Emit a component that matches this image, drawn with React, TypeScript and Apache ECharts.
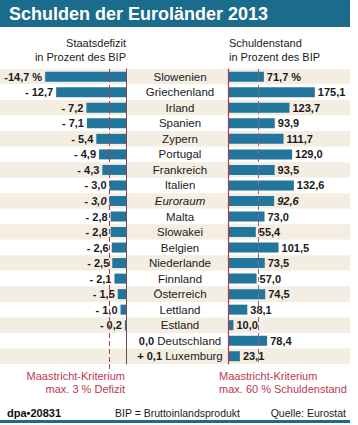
import React, { useEffect, useRef } from "react";
import * as echarts from "echarts";

const countries = [
  "Slowenien", "Griechenland", "Irland", "Spanien", "Zypern", "Portugal", "Frankreich",
  "Italien", "Euroraum", "Malta", "Slowakei", "Belgien", "Niederlande", "Finnland",
  "Österreich", "Lettland", "Estland", "Deutschland", "Luxemburg",
];
const defizit = [-14.7, -12.7, -7.2, -7.1, -5.4, -4.9, -4.3, -3.0, -3.0, -2.8, -2.8, -2.6, -2.5, -2.1, -1.5, -1.0, -0.2, 0.0, 0.1];
const schulden = [71.7, 175.1, 123.7, 93.9, 111.7, 129.0, 93.5, 132.6, 92.6, 73.0, 55.4, 101.5, 73.5, 57.0, 74.5, 38.1, 10.0, 78.4, 23.1];
const italicRow = "Euroraum";
const defizitLimit = -3;
const schuldenLimit = 60;

const FONT = "'Liberation Sans', Arial, Helvetica, sans-serif";
const BAR = "#22759c";
const TEAL = "#1b6c8c";
const RED = "#b83a4e";
const TXT = "#1a1a1a";

const num = (v: number) => Math.abs(v).toFixed(1).replace(".", ",");
const fmtDef = (v: number, i: number) => {
  if (v < 0) return i === 0 ? "-" + num(v) + " %" : "- " + num(v);
  if (v === 0) return "0,0";
  return "+ " + num(v);
};
const fmtSch = (v: number, i: number) => (i === 0 ? num(v) + " %" : num(v));

export default function App() {
  const ref = useRef<HTMLDivElement>(null);
  useEffect(() => {
    document.body.style.margin = "0";
    const chart = echarts.init(ref.current!, undefined, { renderer: "svg" });
    const top = 69;
    const height = 295;
    const option: any = {
      animation: false,
      textStyle: { fontFamily: FONT },
      grid: [
        { left: 43.5, width: 82.5, top, height },
        { left: 228.5, width: 98.6, top, height },
        { left: 0, width: 350, top, height },
      ],
      xAxis: [
        { gridIndex: 0, type: "value", min: -15, max: 0, show: false },
        { gridIndex: 1, type: "value", min: 0, max: 200, show: false },
        { gridIndex: 2, type: "value", min: 0, max: 1, show: false },
      ],
      yAxis: [
        {
          gridIndex: 0, type: "category", data: countries, inverse: true, position: "right",
          axisLine: { show: true, lineStyle: { color: "#6e4a58", width: 1 } },
          axisTick: { show: false },
          z: 5,
          axisLabel: {
            show: true, interval: 0, margin: 54, align: "center", fontFamily: FONT, fontSize: 11.5, color: TXT,
            formatter: (name: string, idx: number) => {
              const v = defizit[idx];
              if (name === italicRow) return "{it|" + name + "}";
              if (v >= 0) return "{b|" + fmtDef(v, idx) + "} {n|" + name + "}";
              return "{n|" + name + "}";
            },
            rich: {
              n: { fontFamily: FONT, fontSize: 11.5, color: TXT },
              it: { fontFamily: FONT, fontSize: 11.5, color: TXT, fontStyle: "italic" },
              b: { fontFamily: FONT, fontSize: 11, color: TXT, fontWeight: "bold" },
            },
          },
        },
        {
          gridIndex: 1, type: "category", data: countries, inverse: true, position: "left",
          axisLine: { show: true, lineStyle: { color: RED, width: 1.2 } },
          axisTick: { show: false }, axisLabel: { show: false }, z: 5,
        },
        {
          gridIndex: 2, type: "category", data: countries, inverse: true,
          axisLine: { show: false }, axisTick: { show: false }, axisLabel: { show: false },
          splitLine: { show: false },
          splitArea: { show: true, interval: 0, areaStyle: { color: ["#f4ede2", "#ffffff"] } },
        },
      ],
      series: [
        {
          type: "bar", xAxisIndex: 0, yAxisIndex: 0, barWidth: 10, z: 3,
          itemStyle: { color: BAR },
          data: defizit.map((v, i) => ({
            value: v,
            label: {
              show: v < 0,
              fontStyle: countries[i] === italicRow ? "italic" : "normal",
            },
          })),
          label: {
            position: "left", distance: 3, fontFamily: FONT, fontSize: 11, fontWeight: "bold", color: TXT,
            formatter: (p: any) => fmtDef(p.value, p.dataIndex),
          },
          markLine: {
            silent: true, symbol: "none", label: { show: false },
            lineStyle: { color: RED, type: [5, 3], width: 1, opacity: 1 },
            data: [{ xAxis: defizitLimit }],
          },
        },
        {
          type: "bar", xAxisIndex: 1, yAxisIndex: 1, barWidth: 10, z: 3,
          itemStyle: { color: BAR },
          data: schulden.map((v, i) => ({
            value: v,
            label: { fontStyle: countries[i] === italicRow ? "italic" : "normal" },
          })),
          label: {
            show: true, position: "right", distance: 3, fontFamily: FONT, fontSize: 11, fontWeight: "bold", color: TXT,
            formatter: (p: any) => fmtSch(p.value, p.dataIndex),
          },
          markLine: {
            silent: true, symbol: "none", label: { show: false },
            lineStyle: { color: "#8a6878", type: [5, 3], width: 1, opacity: 1 },
            data: [{ xAxis: schuldenLimit }],
          },
        },
      ],
      graphic: [
        { type: "rect", shape: { x: 0, y: 0, width: 350, height: 27 }, style: { fill: TEAL } },
        { type: "text", x: 9, y: 14, style: { text: "Schulden der Euroländer 2013", fill: "#fff", font: `bold 18px ${FONT}`, verticalAlign: "middle" } },
        { type: "text", x: 126, y: 43, style: { text: "Staatsdefizit", fill: TXT, font: `11px ${FONT}`, align: "right", verticalAlign: "middle" } },
        { type: "text", x: 126, y: 57, style: { text: "in Prozent des BIP", fill: TXT, font: `11px ${FONT}`, align: "right", verticalAlign: "middle" } },
        { type: "text", x: 229, y: 43, style: { text: "Schuldenstand", fill: TXT, font: `11px ${FONT}`, align: "left", verticalAlign: "middle" } },
        { type: "text", x: 229, y: 57, style: { text: "in Prozent des BIP", fill: TXT, font: `11px ${FONT}`, align: "left", verticalAlign: "middle" } },
        { type: "text", x: 125, y: 376, style: { text: "Maastricht-Kriterium", fill: RED, font: `11px ${FONT}`, align: "right", verticalAlign: "middle" } },
        { type: "text", x: 125, y: 389, style: { text: "max. 3 % Defizit", fill: RED, font: `11px ${FONT}`, align: "right", verticalAlign: "middle" } },
        { type: "text", x: 219, y: 376, style: { text: "Maastricht-Kriterium", fill: RED, font: `11px ${FONT}`, align: "left", verticalAlign: "middle" } },
        { type: "text", x: 219, y: 389, style: { text: "max. 60 % Schuldenstand", fill: RED, font: `11px ${FONT}`, align: "left", verticalAlign: "middle" } },
        { type: "text", x: 7, y: 413, style: { text: "dpa•20831", fill: "#111", font: `bold 11px ${FONT}`, align: "left", verticalAlign: "middle" } },
        { type: "text", x: 115, y: 413, style: { text: "BIP = Bruttoinlandsprodukt", fill: TXT, font: `10.5px ${FONT}`, align: "left", verticalAlign: "middle" } },
        { type: "text", x: 346, y: 413, style: { text: "Quelle: Eurostat", fill: TXT, font: `10.5px ${FONT}`, align: "right", verticalAlign: "middle" } },
        { type: "rect", shape: { x: 0, y: 420, width: 350, height: 3 }, style: { fill: TEAL } },
      ],
    };
    chart.setOption(option);
    const xLim = chart.convertToPixel({ xAxisIndex: 0 }, defizitLimit) as number;
    chart.setOption({
      graphic: [
        ...option.graphic,
        { type: "line", shape: { x1: xLim, y1: top + height, x2: xLim, y2: 370 }, style: { stroke: RED, lineWidth: 1, lineDash: [5, 3] } },
      ],
    });
    return () => chart.dispose();
  }, []);
  return <div ref={ref} style={{ width: 358, height: 425 }} />;
}
